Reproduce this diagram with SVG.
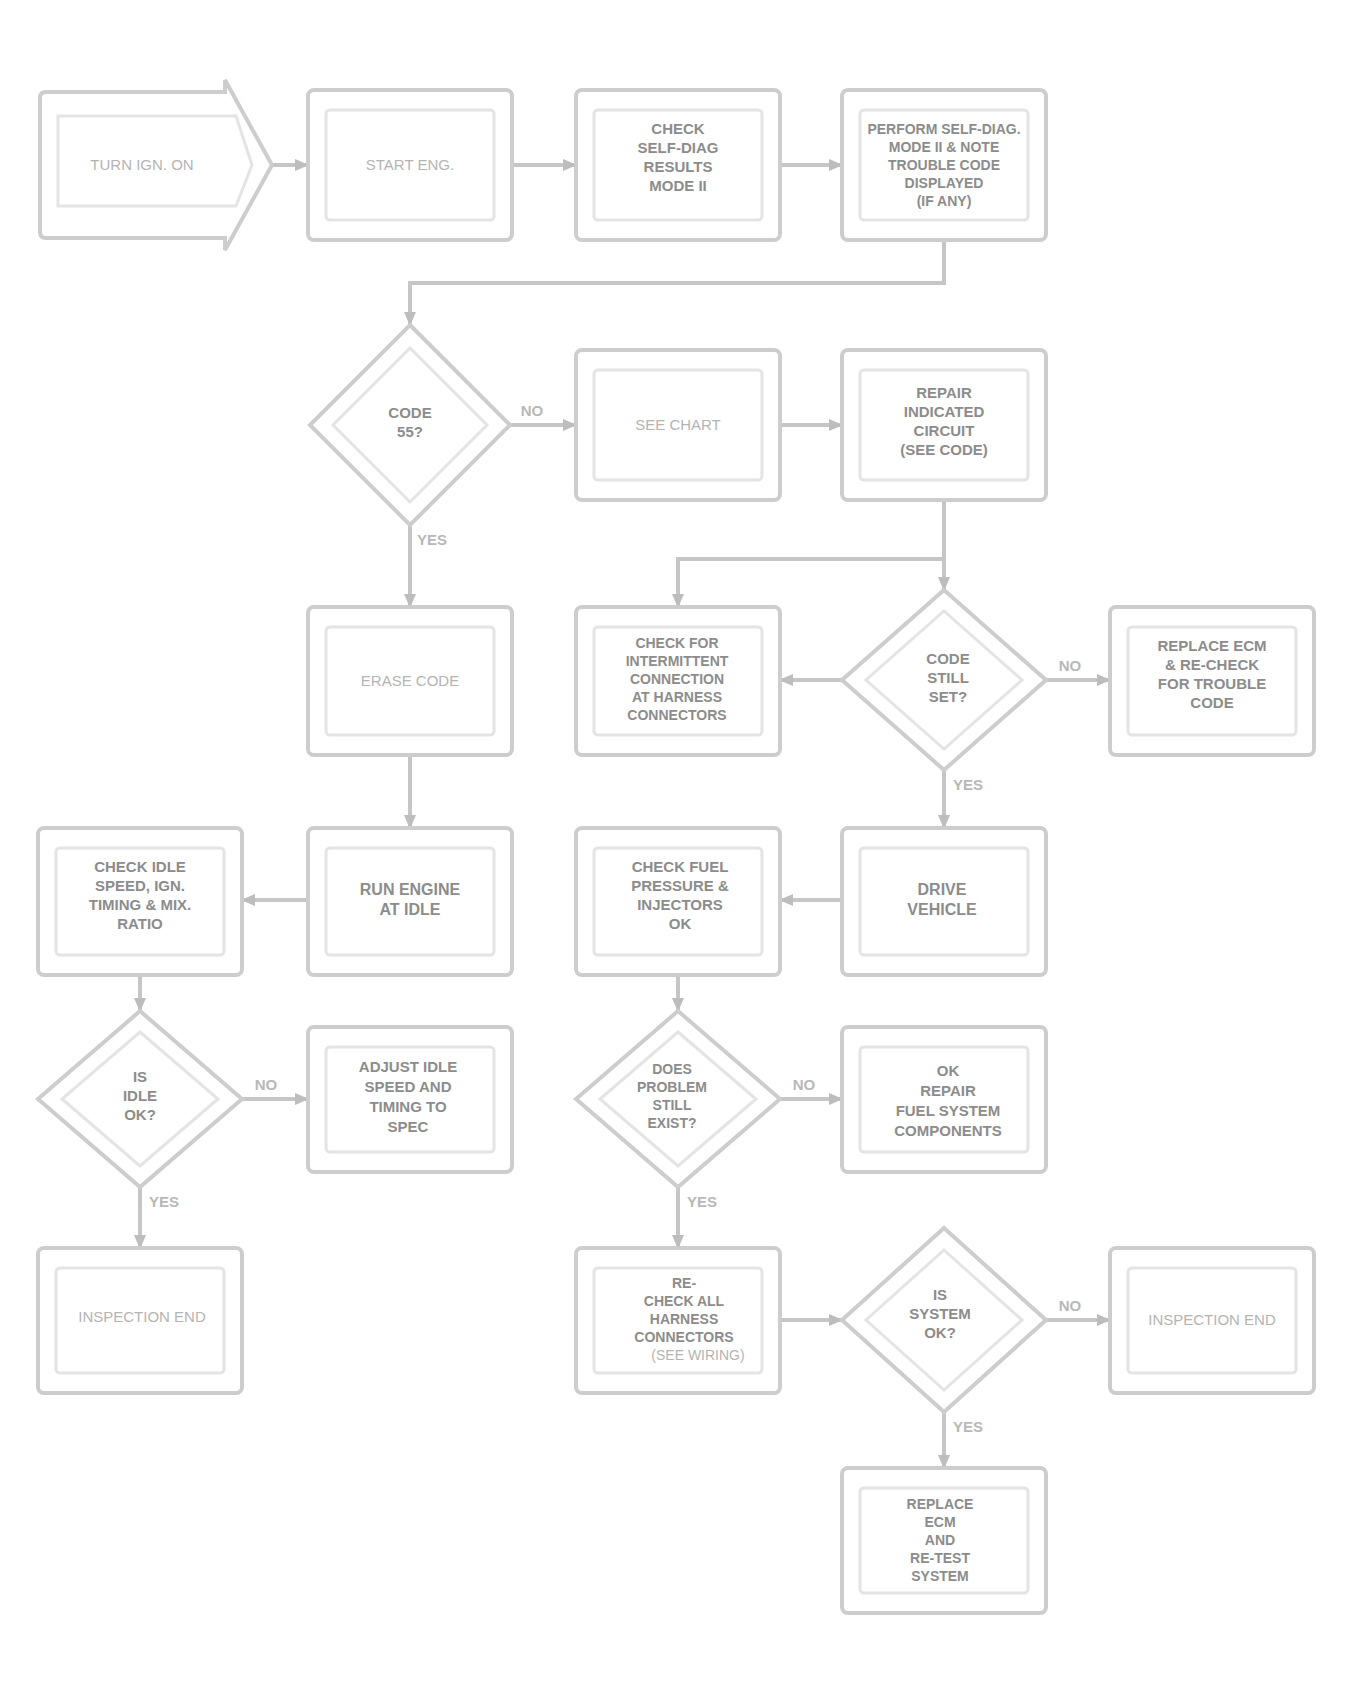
<svg xmlns="http://www.w3.org/2000/svg" width="1355" height="1689" viewBox="0 0 1355 1689">
<style>
.box{fill:#fff;stroke:#cdcdcd;stroke-width:4}
.in{fill:none;stroke:#e4e4e4;stroke-width:3}
.conn{fill:none;stroke:#c6c6c6;stroke-width:4}
.lt{font-family:"Liberation Sans",Arial,sans-serif;font-size:15px;fill:#b4b4b4;text-anchor:middle}
.dk{font-family:"Liberation Sans",Arial,sans-serif;font-size:15px;font-weight:bold;fill:#8c8c8c;text-anchor:middle}
.sm{font-size:14px}
.lbl{font-family:"Liberation Sans",Arial,sans-serif;font-size:15px;font-weight:bold;fill:#b8b8b8;text-anchor:middle}
</style>
<defs>
<marker id="arr" markerWidth="14" markerHeight="12" refX="13" refY="6" orient="auto" markerUnits="userSpaceOnUse">
<path d="M0,0 L14,6 L0,12 Z" fill="#bdbdbd"/>
</marker>
</defs>
<rect width="1355" height="1689" fill="#fff"/>

<g id="connectors">
<path class="conn" d="M272,165 H308" marker-end="url(#arr)"/>
<path class="conn" d="M512,165 H576" marker-end="url(#arr)"/>
<path class="conn" d="M780,165 H842" marker-end="url(#arr)"/>
<path class="conn" d="M944,240 V283 H410 V325" marker-end="url(#arr)"/>
<path class="conn" d="M510,425 H576" marker-end="url(#arr)"/>
<path class="conn" d="M780,425 H842" marker-end="url(#arr)"/>
<path class="conn" d="M944,500 V559 H678 V607" marker-end="url(#arr)"/>
<path class="conn" d="M944,559 V590" marker-end="url(#arr)"/>
<path class="conn" d="M842,680 H780" marker-end="url(#arr)"/>
<path class="conn" d="M1046,680 H1110" marker-end="url(#arr)"/>
<path class="conn" d="M410,525 V607" marker-end="url(#arr)"/>
<path class="conn" d="M410,755 V828" marker-end="url(#arr)"/>
<path class="conn" d="M944,770 V828" marker-end="url(#arr)"/>
<path class="conn" d="M308,900 H242" marker-end="url(#arr)"/>
<path class="conn" d="M842,900 H780" marker-end="url(#arr)"/>
<path class="conn" d="M140,975 V1011" marker-end="url(#arr)"/>
<path class="conn" d="M678,975 V1011" marker-end="url(#arr)"/>
<path class="conn" d="M242,1099 H308" marker-end="url(#arr)"/>
<path class="conn" d="M780,1099 H842" marker-end="url(#arr)"/>
<path class="conn" d="M140,1187 V1248" marker-end="url(#arr)"/>
<path class="conn" d="M678,1187 V1248" marker-end="url(#arr)"/>
<path class="conn" d="M780,1320 H842" marker-end="url(#arr)"/>
<path class="conn" d="M1046,1320 H1110" marker-end="url(#arr)"/>
<path class="conn" d="M944,1412 V1468" marker-end="url(#arr)"/>
<text class="lbl" x="532" y="416">NO</text>
<text class="lbl" x="432" y="545">YES</text>
<text class="lbl" x="1070" y="671">NO</text>
<text class="lbl" x="968" y="790">YES</text>
<text class="lbl" x="266" y="1090">NO</text>
<text class="lbl" x="164" y="1207">YES</text>
<text class="lbl" x="804" y="1090">NO</text>
<text class="lbl" x="702" y="1207">YES</text>
<text class="lbl" x="1070" y="1311">NO</text>
<text class="lbl" x="968" y="1432">YES</text>
</g>

<g id="n-start">
<path class="box" d="M46,92 H225 V80 L272,165 L225,250 V238 H46 Q40,238 40,232 V98 Q40,92 46,92 Z"/>
<path class="in" d="M58,116 H236 L252,165 L236,206 H58 Z"/>
<text class="lt" x="142" y="170">TURN IGN. ON</text>
</g>

<g id="n-b1">
<rect class="box" x="308" y="90" width="204" height="150" rx="6"/>
<rect class="in" x="326" y="110" width="168" height="110" rx="4"/>
<text class="lt" x="410" y="170">START ENG.</text>
</g>

<g id="n-c1">
<rect class="box" x="576" y="90" width="204" height="150" rx="6"/>
<rect class="in" x="594" y="110" width="168" height="110" rx="4"/>
<text class="dk" x="678" y="134">CHECK</text>
<text class="dk" x="678" y="153">SELF-DIAG</text>
<text class="dk" x="678" y="172">RESULTS</text>
<text class="dk" x="678" y="191">MODE II</text>
</g>

<g id="n-d1">
<rect class="box" x="842" y="90" width="204" height="150" rx="6"/>
<rect class="in" x="860" y="110" width="168" height="110" rx="4"/>
<text class="dk sm" x="944" y="134">PERFORM SELF-DIAG.</text>
<text class="dk sm" x="944" y="152">MODE II &amp; NOTE</text>
<text class="dk sm" x="944" y="170">TROUBLE CODE</text>
<text class="dk sm" x="944" y="188">DISPLAYED</text>
<text class="dk sm" x="944" y="206">(IF ANY)</text>
</g>

<g id="n-b2">
<path class="box" d="M410,325 L510,425 L410,525 L310,425 Z"/>
<path class="in" d="M410,348 L487,425 L410,502 L333,425 Z"/>
<text class="dk" x="410" y="418">CODE</text>
<text class="dk" x="410" y="437">55?</text>
</g>

<g id="n-c2">
<rect class="box" x="576" y="350" width="204" height="150" rx="6"/>
<rect class="in" x="594" y="370" width="168" height="110" rx="4"/>
<text class="lt" x="678" y="430">SEE CHART</text>
</g>

<g id="n-d2">
<rect class="box" x="842" y="350" width="204" height="150" rx="6"/>
<rect class="in" x="860" y="370" width="168" height="110" rx="4"/>
<text class="dk" x="944" y="398">REPAIR</text>
<text class="dk" x="944" y="417">INDICATED</text>
<text class="dk" x="944" y="436">CIRCUIT</text>
<text class="dk" x="944" y="455">(SEE CODE)</text>
</g>

<g id="n-b3">
<rect class="box" x="308" y="607" width="204" height="148" rx="6"/>
<rect class="in" x="326" y="627" width="168" height="108" rx="4"/>
<text class="lt" x="410" y="686">ERASE CODE</text>
</g>

<g id="n-c3">
<rect class="box" x="576" y="607" width="204" height="148" rx="6"/>
<rect class="in" x="594" y="627" width="168" height="108" rx="4"/>
<text class="dk sm" x="677" y="648">CHECK FOR</text>
<text class="dk sm" x="677" y="666">INTERMITTENT</text>
<text class="dk sm" x="677" y="684">CONNECTION</text>
<text class="dk sm" x="677" y="702">AT HARNESS</text>
<text class="dk sm" x="677" y="720">CONNECTORS</text>
</g>

<g id="n-d3">
<path class="box" d="M944,590 L1046,680 L944,770 L842,680 Z"/>
<path class="in" d="M944,611 L1022,680 L944,749 L866,680 Z"/>
<text class="dk" x="948" y="664">CODE</text>
<text class="dk" x="948" y="683">STILL</text>
<text class="dk" x="948" y="702">SET?</text>
</g>

<g id="n-e3">
<rect class="box" x="1110" y="607" width="204" height="148" rx="6"/>
<rect class="in" x="1128" y="627" width="168" height="108" rx="4"/>
<text class="dk" x="1212" y="651">REPLACE ECM</text>
<text class="dk" x="1212" y="670">&amp; RE-CHECK</text>
<text class="dk" x="1212" y="689">FOR TROUBLE</text>
<text class="dk" x="1212" y="708">CODE</text>
</g>

<g id="n-a4">
<rect class="box" x="38" y="828" width="204" height="147" rx="6"/>
<rect class="in" x="56" y="848" width="168" height="107" rx="4"/>
<text class="dk" x="140" y="872">CHECK IDLE</text>
<text class="dk" x="140" y="891">SPEED, IGN.</text>
<text class="dk" x="140" y="910">TIMING &amp; MIX.</text>
<text class="dk" x="140" y="929">RATIO</text>
</g>

<g id="n-b4">
<rect class="box" x="308" y="828" width="204" height="147" rx="6"/>
<rect class="in" x="326" y="848" width="168" height="107" rx="4"/>
<text class="dk" x="410" y="895" style="font-size:16px">RUN ENGINE</text>
<text class="dk" x="410" y="915" style="font-size:16px">AT IDLE</text>
</g>

<g id="n-c4">
<rect class="box" x="576" y="828" width="204" height="147" rx="6"/>
<rect class="in" x="594" y="848" width="168" height="107" rx="4"/>
<text class="dk" x="680" y="872">CHECK FUEL</text>
<text class="dk" x="680" y="891">PRESSURE &amp;</text>
<text class="dk" x="680" y="910">INJECTORS</text>
<text class="dk" x="680" y="929">OK</text>
</g>

<g id="n-d4">
<rect class="box" x="842" y="828" width="204" height="147" rx="6"/>
<rect class="in" x="860" y="848" width="168" height="107" rx="4"/>
<text class="dk" x="942" y="895" style="font-size:16px">DRIVE</text>
<text class="dk" x="942" y="915" style="font-size:16px">VEHICLE</text>
</g>

<g id="n-a5">
<path class="box" d="M140,1011 L242,1099 L140,1187 L38,1099 Z"/>
<path class="in" d="M140,1032 L218,1099 L140,1166 L62,1099 Z"/>
<text class="dk" x="140" y="1082">IS</text>
<text class="dk" x="140" y="1101">IDLE</text>
<text class="dk" x="140" y="1120">OK?</text>
</g>

<g id="n-b5">
<rect class="box" x="308" y="1027" width="204" height="145" rx="6"/>
<rect class="in" x="326" y="1047" width="168" height="105" rx="4"/>
<text class="dk" x="408" y="1072">ADJUST IDLE</text>
<text class="dk" x="408" y="1092">SPEED AND</text>
<text class="dk" x="408" y="1112">TIMING TO</text>
<text class="dk" x="408" y="1132">SPEC</text>
</g>

<g id="n-c5">
<path class="box" d="M678,1011 L780,1099 L678,1187 L576,1099 Z"/>
<path class="in" d="M678,1032 L756,1099 L678,1166 L600,1099 Z"/>
<text class="dk sm" x="672" y="1074">DOES</text>
<text class="dk sm" x="672" y="1092">PROBLEM</text>
<text class="dk sm" x="672" y="1110">STILL</text>
<text class="dk sm" x="672" y="1128">EXIST?</text>
</g>

<g id="n-d5">
<rect class="box" x="842" y="1027" width="204" height="145" rx="6"/>
<rect class="in" x="860" y="1047" width="168" height="105" rx="4"/>
<text class="dk" x="948" y="1076">OK</text>
<text class="dk" x="948" y="1096">REPAIR</text>
<text class="dk" x="948" y="1116">FUEL SYSTEM</text>
<text class="dk" x="948" y="1136">COMPONENTS</text>
</g>

<g id="n-a6">
<rect class="box" x="38" y="1248" width="204" height="145" rx="6"/>
<rect class="in" x="56" y="1268" width="168" height="105" rx="4"/>
<text class="lt" x="142" y="1322">INSPECTION END</text>
</g>

<g id="n-c6">
<rect class="box" x="576" y="1248" width="204" height="145" rx="6"/>
<rect class="in" x="594" y="1268" width="168" height="105" rx="4"/>
<text class="dk sm" x="684" y="1288">RE-</text>
<text class="dk sm" x="684" y="1306">CHECK ALL</text>
<text class="dk sm" x="684" y="1324">HARNESS</text>
<text class="dk sm" x="684" y="1342">CONNECTORS</text>
<text class="lt sm" x="698" y="1360">(SEE WIRING)</text>
</g>

<g id="n-d6">
<path class="box" d="M944,1228 L1046,1320 L944,1412 L842,1320 Z"/>
<path class="in" d="M944,1250 L1022,1320 L944,1390 L866,1320 Z"/>
<text class="dk" x="940" y="1300">IS</text>
<text class="dk" x="940" y="1319">SYSTEM</text>
<text class="dk" x="940" y="1338">OK?</text>
</g>

<g id="n-e6">
<rect class="box" x="1110" y="1248" width="204" height="145" rx="6"/>
<rect class="in" x="1128" y="1268" width="168" height="105" rx="4"/>
<text class="lt" x="1212" y="1325">INSPECTION END</text>
</g>

<g id="n-d7">
<rect class="box" x="842" y="1468" width="204" height="145" rx="6"/>
<rect class="in" x="860" y="1488" width="168" height="105" rx="4"/>
<text class="dk sm" x="940" y="1509">REPLACE</text>
<text class="dk sm" x="940" y="1527">ECM</text>
<text class="dk sm" x="940" y="1545">AND</text>
<text class="dk sm" x="940" y="1563">RE-TEST</text>
<text class="dk sm" x="940" y="1581">SYSTEM</text>
</g>
</svg>
